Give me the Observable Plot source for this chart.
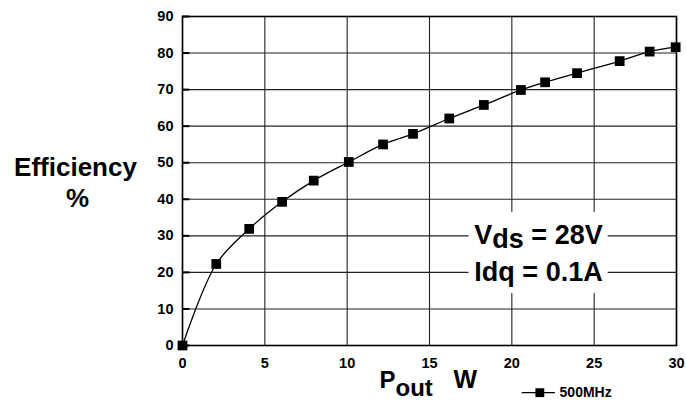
<!DOCTYPE html>
<html>
<head>
<meta charset="utf-8">
<script src="https://cdn.jsdelivr.net/npm/d3@7"></script>
<script src="https://cdn.jsdelivr.net/npm/@observablehq/plot@0.6"></script>
<style>
  html, body { margin: 0; padding: 0; background: #fff; }
  svg text { font-family: Arial, "Liberation Sans", sans-serif; }
</style>
</head>
<body>
<div id="chart"></div>
<script>
// Data
const pout = [0, 2.05, 4.05, 6.05, 7.97, 10.1, 12.18, 14.0, 16.2, 18.3, 20.55, 22.02, 23.96, 26.55, 28.37, 29.95];
const efficiency = [0, 22.3, 31.9, 39.3, 45.1, 50.2, 55.0, 57.9, 62.1, 65.8, 69.9, 72.0, 74.5, 77.8, 80.4, 81.6];
const xTicks = [0, 5, 10, 15, 20, 25, 30];
const yTicks = [0, 10, 20, 30, 40, 50, 60, 70, 80, 90];
const seriesName = "500MHz";
const annotationLines = ["Vds = 28V", "Idq = 0.1A"];
const annotationY = [30, 20];

const data = pout.map((x, i) => ({x, y: efficiency[i]}));
const font = "Arial, 'Liberation Sans', sans-serif";

const chart = Plot.plot({
  width: 686,
  height: 400,
  marginLeft: 182,
  marginRight: 10,
  marginTop: 16,
  marginBottom: 55,
  style: {fontFamily: font, fontWeight: "bold", fontSize: "14px", color: "#000", background: "#fff"},
  x: {domain: [0, 30], ticks: xTicks, label: null},
  y: {domain: [0, 90], ticks: yTicks, label: null},
  marks: [
    Plot.gridX(xTicks, {stroke: "#222", strokeOpacity: 1, strokeWidth: 1.1}),
    Plot.gridY(yTicks, {stroke: "#222", strokeOpacity: 1, strokeWidth: 1.1}),
    Plot.ruleY(yTicks, {x1: 0, x2: 0.45, stroke: "#000", strokeWidth: 2}),
    // white box behind annotation
    Plot.rect([0], {x1: 17.4, x2: 25.85, y1: 14.2, y2: 36.4, fill: "#fff"}),
    Plot.frame({stroke: "#000", strokeWidth: 1.6}),
    Plot.axisX(xTicks, {tickSize: 0, tickPadding: 12, fontSize: 14.5, fontWeight: "bold", label: null}),
    Plot.axisY(yTicks, {tickSize: 0, tickPadding: 9, fontSize: 14.5, fontWeight: "bold", label: null}),
    Plot.line(data, {x: "x", y: "y", curve: "catmull-rom", stroke: "#000", strokeWidth: 1.3}),
    Plot.dot(data, {x: "x", y: "y", symbol: "square", r: 5.5, fill: "#000", stroke: "none"}),
    // annotation
    Plot.text(annotationLines, {x: 21.62, y: (d, i) => annotationY[i], text: d => d, fontSize: 27, fontWeight: "bold", textAnchor: "middle", fill: "#000", className: "annot"}),
    // y label
    Plot.text(["Efficiency"], {frameAnchor: "left", dx: -107, dy: -13, fontSize: 26, fontWeight: "bold", textAnchor: "middle", fill: "#000"}),
    Plot.text(["%"], {frameAnchor: "left", dx: -105, dy: 18, fontSize: 26, fontWeight: "bold", textAnchor: "middle", fill: "#000"}),
    // x label
    Plot.text(["Pout"], {frameAnchor: "bottom", dx: -50, dy: 42, lineAnchor: "bottom", textAnchor: "start", fontSize: 24, fontWeight: "bold", fill: "#000", className: "xlab"}),
    Plot.text(["W"], {frameAnchor: "bottom", dx: 24, dy: 42, lineAnchor: "bottom", textAnchor: "start", fontSize: 25, fontWeight: "bold", fill: "#000"}),
    // legend
    Plot.ruleY([-12.9], {x1: 20.63, x2: 22.65, stroke: "#000", strokeWidth: 1.3}),
    Plot.dot([21.7], {x: d => d, y: -12.9, symbol: "square", r: 5, fill: "#000", stroke: "none"}),
    Plot.text([seriesName], {x: 22.9, y: -12.9, textAnchor: "start", fontSize: 14, fontWeight: "bold", fill: "#000"})
  ]
});

document.getElementById("chart").appendChild(chart);

// subscripts
const svg = d3.select(chart);
svg.selectAll("text").each(function() {
  const t = d3.select(this);
  const s = this.textContent;
  if (s === "Vds = 28V") {
    t.text(null);
    t.append("tspan").text("V");
    t.append("tspan").attr("dy", 4).text("ds");
    t.append("tspan").attr("dy", -4).text(" = 28V");
  } else if (s === "Pout") {
    t.text(null);
    t.append("tspan").text("P");
    t.append("tspan").attr("dy", 8).text("out");
  }
});
</script>
</body>
</html>
